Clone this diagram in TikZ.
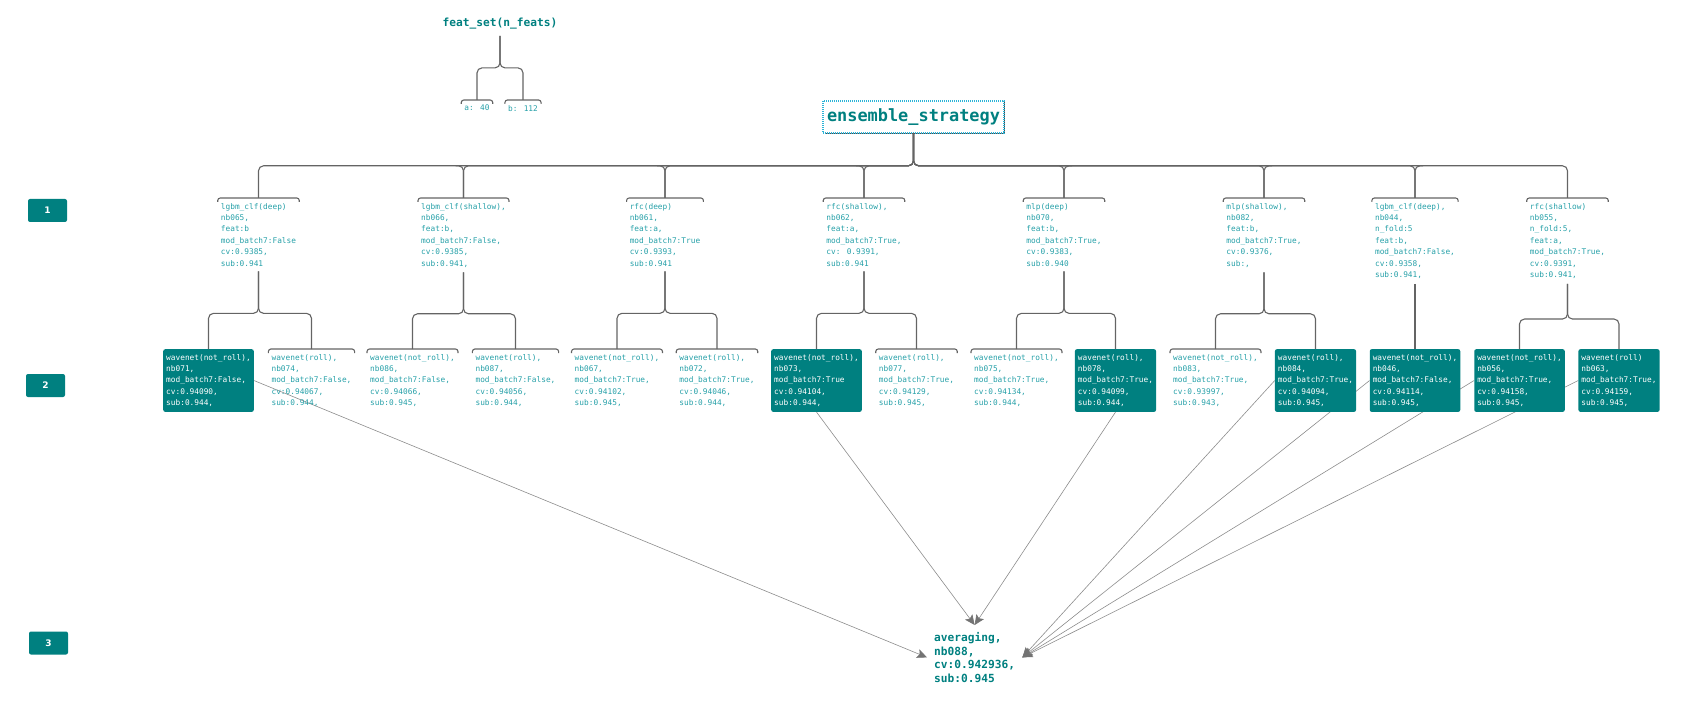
\documentclass[tikz,border=0pt]{standalone}
\usepackage{fontspec}
\setmainfont{DejaVu Sans}
\newfontfamily\monofont{DejaVu Sans Mono}
\usetikzlibrary{arrows.meta,calc,shadows}
\definecolor{tealfill}{RGB}{0,128,128}
\definecolor{tealtxt}{RGB}{38,160,168}
\definecolor{boldteal}{RGB}{0,128,128}
\definecolor{linegray}{RGB}{100,100,100}
\definecolor{arrgray}{RGB}{140,140,140}
\definecolor{tipgray}{RGB}{115,115,115}
\definecolor{dotblue}{RGB}{45,180,215}
\pgfdeclarelayer{background}
\pgfsetlayers{background,main}
\tikzset{
  txt/.style={font=\monofont\fontsize{7.8}{11.4}\selectfont, text=tealtxt, align=left, inner xsep=3pt, inner ysep=5pt, anchor=north},
  filled/.style={txt, fill=tealfill, text=white, rounded corners=2pt},
  brace/.style={draw=linegray, line width=1.1pt, rounded corners=5pt},
  hookline/.style={draw=linegray, line width=1.1pt, rounded corners=2.5pt},
  arr/.style={draw=arrgray, line width=0.6pt, -{Stealth[length=10pt,width=9pt,inset=2pt,color=tipgray]}},
  lvl/.style={fill=tealfill, text=white, font=\bfseries\fontsize{9}{10}\selectfont, rounded corners=2pt, minimum width=39pt, minimum height=23pt, inner sep=0pt},
  esbox/.style={draw=dotblue, dash pattern=on 1pt off 1pt, line width=1.2pt, fill=white, font=\monofont\bfseries\fontsize{16.9}{19}\selectfont, text=boldteal, inner xsep=4pt, minimum height=32pt, drop shadow={shadow xshift=1.5pt, shadow yshift=-1.5pt, fill=black!70, opacity=1}},
  bigtxt/.style={font=\monofont\bfseries\fontsize{11.2}{13.7}\selectfont, text=boldteal, align=left, inner sep=7pt},
}
\newcommand\tlink[3][.5]{\draw[brace] (#2.south) |- ($(#2.south)!#1!(#3.north)$) -| (#3.north);}
\newcommand\tside[3]{\draw[brace] ($(#2.north |- #1)+(#3,0)$) -| (#2.north);}
\newcommand\hookon[1]{\draw[hookline] ([yshift=-4pt]#1.north west) |- (#1.north) -| ([yshift=-4pt]#1.north east);}
\begin{document}
\begin{tikzpicture}[x=1pt,y=-1pt]
\useasboundingbox (0,0) rectangle (1695,714);

% level markers
\node[lvl] (lv1) at (47.5,210.5) {1};
\node[lvl] (lv2) at (45.5,385.5) {2};
\node[lvl] (lv3) at (48.5,643) {3};

% feature set tree
\node[bigtxt, inner xsep=3pt, inner ysep=6pt] (fs) at (500,24) {feat\_set(n\_feats)};
\node[txt] (fa) at (477,100) {a: 40};
\node[txt] (fb) at (523,100) {b: 112};
\tlink{fs}{fa}\tlink{fs}{fb}
\hookon{fa}\hookon{fb}

% root
\node[esbox] (es) at (913.5,117) {ensemble\_strategy};

% level 1
\node[txt] (la) at (258.5,198) {lgbm\_clf(deep)\\nb065,\\feat:b\\mod\_batch7:False\\cv:0.9385,\\sub:0.941};
\node[txt] (lb) at (463.5,198) {lgbm\_clf(shallow),\\nb066,\\feat:b,\\mod\_batch7:False,\\cv:0.9385,\\sub:0.941,};
\node[txt] (lc) at (665,198) {rfc(deep)\\nb061,\\feat:a,\\mod\_batch7:True\\cv:0.9393,\\sub:0.941};
\node[txt] (ld) at (864,198) {rfc(shallow),\\nb062,\\feat:a,\\mod\_batch7:True,\\cv: 0.9391,\\sub:0.941};
\node[txt] (le) at (1064,198) {mlp(deep)\\nb070,\\feat:b,\\mod\_batch7:True,\\cv:0.9383,\\sub:0.940};
\node[txt] (lf) at (1264,198) {mlp(shallow),\\nb082,\\feat:b,\\mod\_batch7:True,\\cv:0.9376,\\sub:,};
\node[txt] (lg) at (1415,198) {lgbm\_clf(deep),\\nb044,\\n\_fold:5\\feat:b,\\mod\_batch7:False,\\cv:0.9358,\\sub:0.941,};
\node[txt] (lh) at (1567.5,198) {rfc(shallow)\\nb055,\\n\_fold:5,\\feat:a,\\mod\_batch7:True,\\cv:0.9391,\\sub:0.941,};

\coordinate (m0) at ($(es.south)!.5!(la.north)$);
\foreach \c in {la,lb,lc,ld,le,lf,lg,lh}{\tlink{es}{\c}\hookon{\c}}
\foreach \c in {lb,lc,ld}{\tside{m0}{\c}{-8}}
\foreach \c in {le,lf,lg}{\tside{m0}{\c}{8}}

% level 2
\node[filled] (n071) at (208.5,349) {wavenet(not\_roll),\\nb071,\\mod\_batch7:False,\\cv:0.94090,\\sub:0.944,};
\node[txt] (n074) at (311.5,349) {wavenet(roll),\\nb074,\\mod\_batch7:False,\\cv:0.94067,\\sub:0.944,};
\node[txt] (n086) at (412.5,349) {wavenet(not\_roll),\\nb086,\\mod\_batch7:False,\\cv:0.94066,\\sub:0.945,};
\node[txt] (n087) at (515.5,349) {wavenet(roll),\\nb087,\\mod\_batch7:False,\\cv:0.94056,\\sub:0.944,};
\node[txt] (n067) at (617,349) {wavenet(not\_roll),\\nb067,\\mod\_batch7:True,\\cv:0.94102,\\sub:0.945,};
\node[txt] (n072) at (717,349) {wavenet(roll),\\nb072,\\mod\_batch7:True,\\cv:0.94046,\\sub:0.944,};
\node[filled] (n073) at (816.5,349) {wavenet(not\_roll),\\nb073,\\mod\_batch7:True\\cv:0.94104,\\sub:0.944,};
\node[txt] (n077) at (916.5,349) {wavenet(roll),\\nb077,\\mod\_batch7:True,\\cv:0.94129,\\sub:0.945,};
\node[txt] (n075) at (1016.5,349) {wavenet(not\_roll),\\nb075,\\mod\_batch7:True,\\cv:0.94134,\\sub:0.944,};
\node[filled] (n078) at (1115.5,349) {wavenet(roll),\\nb078,\\mod\_batch7:True,\\cv:0.94099,\\sub:0.944,};
\node[txt] (n083) at (1215.5,349) {wavenet(not\_roll),\\nb083,\\mod\_batch7:True,\\cv:0.93997,\\sub:0.943,};
\node[filled] (n084) at (1315.5,349) {wavenet(roll),\\nb084,\\mod\_batch7:True,\\cv:0.94094,\\sub:0.945,};
\node[filled] (n046) at (1415,349) {wavenet(not\_roll),\\nb046,\\mod\_batch7:False,\\cv:0.94114,\\sub:0.945,};
\node[filled] (n056) at (1519.5,349) {wavenet(not\_roll),\\nb056,\\mod\_batch7:True,\\cv:0.94158,\\sub:0.945,};
\node[filled] (n063) at (1619,349) {wavenet(roll)\\nb063,\\mod\_batch7:True,\\cv:0.94159,\\sub:0.945,};

\tlink[.54]{la}{n071}\tlink[.54]{la}{n074}
\tlink[.54]{lb}{n086}\tlink[.54]{lb}{n087}
\tlink[.54]{lc}{n067}\tlink[.54]{lc}{n072}
\tlink[.54]{ld}{n073}\tlink[.54]{ld}{n077}
\tlink[.54]{le}{n075}\tlink[.54]{le}{n078}
\tlink[.54]{lf}{n083}\tlink[.54]{lf}{n084}
\draw[brace] (lg.south) -- (n046.north);
\tlink[.54]{lh}{n056}\tlink[.54]{lh}{n063}
\foreach \c in {n074,n086,n087,n067,n072,n077,n075,n083}{\hookon{\c}}

% level 3
\node[bigtxt, anchor=north west] (avg) at (927,625) {averaging,\\nb088,\\cv:0.942936,\\sub:0.945};

\begin{pgfonlayer}{background}
\draw[arr] (n071.east) -- (avg.west);
\draw[arr] (n073.south) -- (avg.north);
\draw[arr] (n078.south) -- (avg.north);
\draw[arr] (n084.west) -- (avg.east);
\draw[arr] (n046.west) -- (avg.east);
\draw[arr] (n056.west) -- (avg.east);
\draw[arr] (n063.west) -- (avg.east);
\end{pgfonlayer}
\end{tikzpicture}
\end{document}
